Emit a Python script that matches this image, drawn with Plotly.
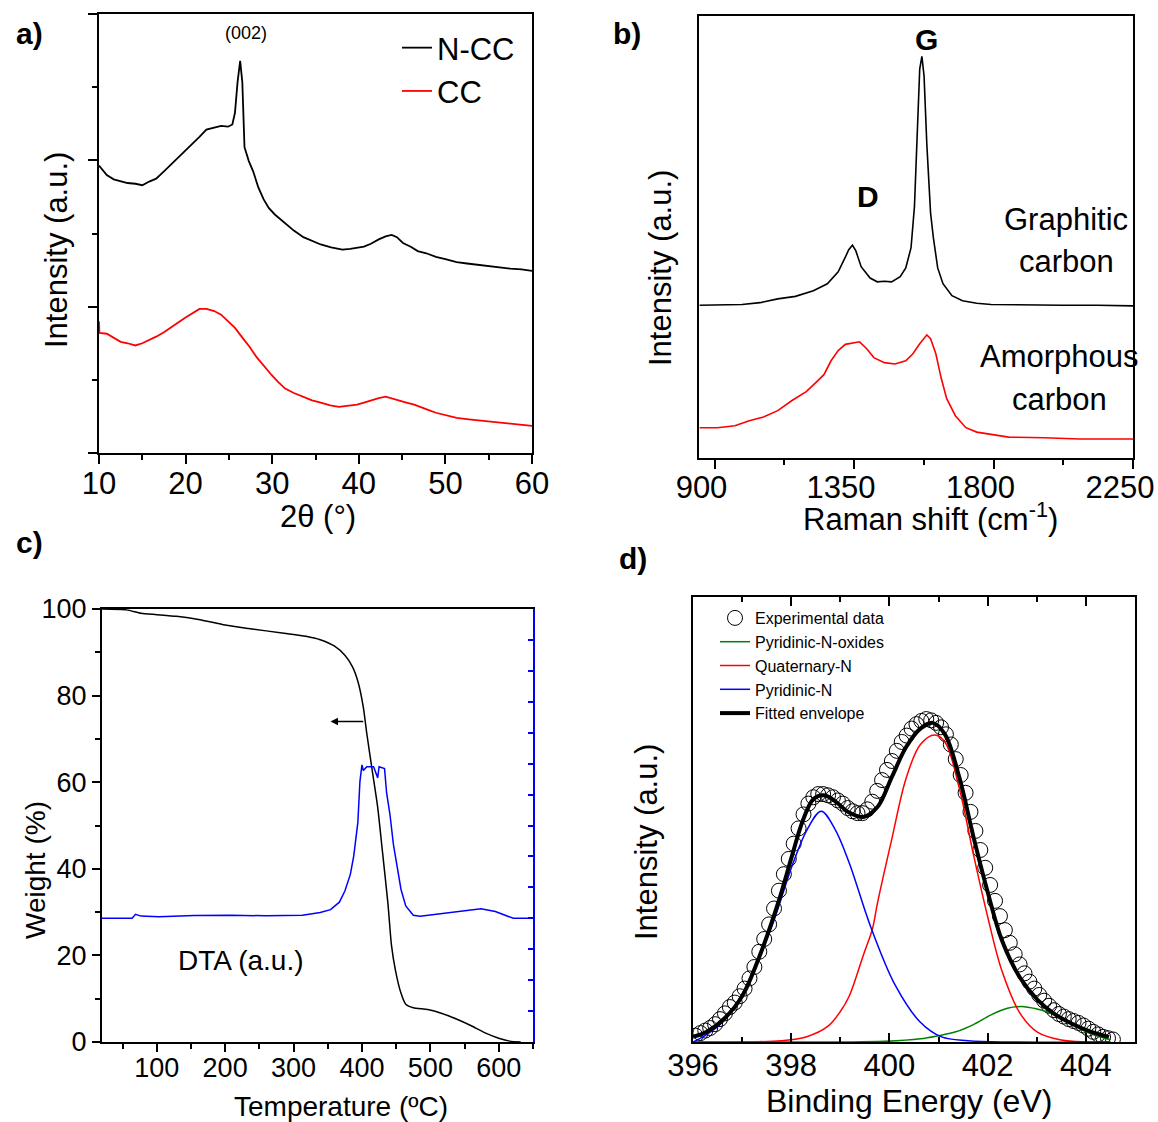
import plotly.graph_objects as go

W, H = 1158, 1122
FONT = "Arial, Liberation Sans, sans-serif"

# ---------------- a) XRD patterns ----------------
xrd_2theta_ncc = [10.0, 10.5, 10.9, 11.7, 12.5, 13.3, 14.2, 15.0, 15.8, 16.6, 17.5, 18.3, 19.1,
                  19.95, 20.8, 21.6, 22.4, 23.3, 24.1, 24.9, 25.4, 25.7, 26.0, 26.3, 26.55, 26.8,
                  27.3, 27.8, 28.4, 29.0, 29.6, 30.3, 31.5, 32.5, 33.6, 34.6, 35.6, 36.8, 38.1,
                  39.0, 39.8, 40.6, 41.4, 42.3, 43.1, 43.8, 44.4, 45.1, 46.0, 46.8, 47.8, 48.9,
                  50.0, 51.3, 52.5, 53.8, 55.0, 56.3, 57.5, 58.8, 60.0]
xrd_int_ncc = [3.93, 3.86, 3.80, 3.74, 3.71, 3.69, 3.68, 3.66, 3.71, 3.75, 3.85, 3.94, 4.04,
               4.13, 4.22, 4.32, 4.42, 4.45, 4.47, 4.46, 4.49, 4.65, 5.07, 5.36, 5.07, 4.18,
               3.99, 3.85, 3.63, 3.47, 3.35, 3.26, 3.14, 3.04, 2.95, 2.90, 2.85, 2.81, 2.78,
               2.79, 2.80, 2.82, 2.86, 2.92, 2.96, 2.98, 2.95, 2.87, 2.82, 2.76, 2.73, 2.68,
               2.65, 2.61, 2.59, 2.57, 2.55, 2.54, 2.52, 2.51, 2.49]

xrd_2theta_cc = [10.0, 10.05, 10.9, 11.7, 12.5, 13.3, 14.2, 15.0, 15.8, 16.6, 17.5, 18.3, 19.1,
                 19.95, 20.8, 21.6, 22.4, 23.3, 24.1, 24.9, 25.7, 26.6, 27.4, 28.2, 29.0, 29.9,
                 30.7, 31.5, 32.5, 33.6, 34.6, 35.6, 36.7, 37.7, 38.7, 39.8, 40.6, 41.4, 42.3,
                 43.1, 43.9, 44.7, 45.5, 46.4, 47.2, 48.0, 48.9, 50.1, 51.3, 52.7, 54.2, 55.6,
                 57.1, 58.5, 60.0]
xrd_int_cc = [1.80, 1.64, 1.63, 1.57, 1.52, 1.50, 1.47, 1.50, 1.54, 1.59, 1.65, 1.71, 1.78,
              1.85, 1.91, 1.97, 1.97, 1.94, 1.89, 1.80, 1.71, 1.57, 1.45, 1.31, 1.19, 1.07,
              0.97, 0.88, 0.82, 0.77, 0.72, 0.69, 0.65, 0.63, 0.64, 0.66, 0.69, 0.72, 0.75,
              0.77, 0.74, 0.72, 0.69, 0.66, 0.63, 0.59, 0.55, 0.52, 0.48, 0.46, 0.44, 0.42,
              0.40, 0.39, 0.37]

# ---------------- b) Raman spectra ----------------
raman_shift_gr = [852, 932, 989, 1047, 1104, 1161, 1219, 1264, 1299, 1322, 1333, 1345, 1356,
                  1373, 1402, 1425, 1448, 1471, 1499, 1517, 1534, 1545, 1554, 1562, 1569, 1576,
                  1585, 1597, 1606, 1620, 1637, 1666, 1700, 1746, 1792, 1906, 2021, 2135, 2250]
raman_int_gr = [2.42, 2.42, 2.43, 2.46, 2.52, 2.56, 2.65, 2.76, 2.95, 3.18, 3.30, 3.37, 3.28,
                3.03, 2.85, 2.79, 2.80, 2.79, 2.87, 3.01, 3.33, 3.98, 5.07, 6.16, 6.36, 6.05,
                4.96, 3.88, 3.49, 3.01, 2.76, 2.57, 2.49, 2.45, 2.43, 2.42, 2.42, 2.42, 2.41]

raman_shift_am = [852, 909, 966, 1012, 1058, 1104, 1150, 1196, 1230, 1253, 1276, 1299, 1322,
                  1345, 1368, 1391, 1414, 1448, 1482, 1517, 1540, 1562, 1585, 1597, 1614, 1631,
                  1649, 1677, 1711, 1746, 1792, 1849, 1964, 2078, 2250]
raman_int_am = [0.48, 0.48, 0.51, 0.59, 0.65, 0.75, 0.91, 1.05, 1.21, 1.32, 1.54, 1.70, 1.80,
                1.82, 1.84, 1.73, 1.59, 1.51, 1.49, 1.54, 1.65, 1.81, 1.95, 1.89, 1.65, 1.27,
                0.94, 0.67, 0.48, 0.41, 0.37, 0.33, 0.32, 0.30, 0.30]

# ---------------- c) TGA / DTA ----------------
tga_temp = [20, 56, 77, 100, 129, 161, 200, 234, 286, 318, 339, 360, 375, 386, 394, 402, 407,
            415, 423, 430, 438, 443, 449, 457, 464, 475, 496, 517, 538, 559, 580, 601, 616, 632]
tga_weight = [100.0, 99.8, 99.0, 98.7, 98.3, 97.6, 96.3, 95.5, 94.4, 93.7, 92.9, 91.4, 89.3,
              86.7, 83.3, 77.3, 71.3, 62.7, 54.2, 43.9, 31.9, 22.5, 16.5, 11.3, 8.7, 7.9, 7.5,
              6.6, 5.3, 3.8, 2.1, 0.8, 0.2, 0.0]

dta_temp = [20, 64, 69, 77, 103, 155, 208, 260, 313, 339, 354, 367, 375, 383, 388, 394, 397,
            400, 402, 407, 417, 420, 423, 425, 433, 436, 441, 446, 451, 457, 464, 475, 485,
            506, 538, 559, 574, 595, 611, 621, 645]
dta_signal = [4.00, 4.00, 4.13, 4.07, 4.05, 4.09, 4.10, 4.08, 4.10, 4.19, 4.28, 4.52, 4.88,
              5.42, 6.02, 7.10, 8.42, 8.96, 8.78, 8.90, 8.90, 8.75, 8.54, 8.90, 8.84, 8.06,
              7.34, 6.38, 5.66, 4.94, 4.40, 4.10, 4.07, 4.13, 4.22, 4.28, 4.31, 4.22, 4.10,
              4.00, 4.00]

# ---------------- d) N 1s XPS ----------------
xps_be = [396.05, 396.15, 396.25, 396.35, 396.45, 396.55, 396.65, 396.75, 396.85, 396.95,
          397.05, 397.15, 397.25, 397.35, 397.45, 397.55, 397.65, 397.75, 397.85, 397.95,
          398.05, 398.15, 398.25, 398.35, 398.45, 398.55, 398.65, 398.75, 398.85, 398.95,
          399.05, 399.15, 399.25, 399.35, 399.45, 399.55, 399.65, 399.75, 399.85, 399.95,
          400.05, 400.15, 400.25, 400.35, 400.45, 400.55, 400.65, 400.75, 400.85, 400.95,
          401.05, 401.15, 401.25, 401.35, 401.45, 401.55, 401.65, 401.75, 401.85, 401.95,
          402.05, 402.15, 402.25, 402.35, 402.45, 402.55, 402.65, 402.75, 402.85, 402.95,
          403.05, 403.15, 403.25, 403.35, 403.45, 403.55, 403.65, 403.75, 403.85, 403.95,
          404.05, 404.15, 404.25, 404.35, 404.45, 404.55]
xps_counts = [0.10, 0.14, 0.18, 0.22, 0.28, 0.36, 0.45, 0.55, 0.62, 0.72,
              0.84, 1.00, 1.18, 1.42, 1.62, 1.85, 2.10, 2.38, 2.64, 2.88,
              3.12, 3.36, 3.58, 3.75, 3.85, 3.90, 3.90, 3.88, 3.85, 3.80,
              3.75, 3.68, 3.63, 3.60, 3.60, 3.66, 3.78, 3.95, 4.12, 4.28,
              4.42, 4.58, 4.72, 4.82, 4.93, 5.00, 5.05, 5.08, 5.06, 5.02,
              4.95, 4.84, 4.68, 4.45, 4.20, 3.92, 3.62, 3.32, 3.02, 2.74,
              2.47, 2.22, 1.98, 1.76, 1.56, 1.38, 1.22, 1.08, 0.95, 0.84,
              0.74, 0.65, 0.57, 0.50, 0.44, 0.40, 0.36, 0.33, 0.30, 0.26,
              0.21, 0.16, 0.12, 0.08, 0.06, 0.04]

oxide_be = [396.0, 399.0, 399.9, 400.63, 401.0, 401.35, 401.7, 402.08, 402.4, 402.69, 403.0,
            403.38, 403.7, 403.9, 404.2, 404.47, 404.5]
oxide_int = [0.0, 0.0, 0.01, 0.05, 0.10, 0.16, 0.27, 0.43, 0.53, 0.56, 0.52, 0.43, 0.30, 0.20,
             0.10, 0.04, 0.03]

quat_be = [396.0, 397.0, 397.8, 398.3, 398.75, 399.0, 399.18, 399.47, 399.65, 399.76, 400.05,
           400.34, 400.63, 400.92, 401.13, 401.42, 401.71, 402.0, 402.29, 402.66, 403.02,
           403.5, 404.0, 404.5]
quat_int = [0.0, 0.0, 0.02, 0.08, 0.25, 0.48, 0.72, 1.37, 1.77, 2.20, 3.20, 4.15, 4.68, 4.83,
            4.72, 4.00, 2.95, 1.97, 1.12, 0.45, 0.15, 0.03, 0.0, 0.0]

pyr_be = [396.0, 396.2, 396.6, 397.1, 397.61, 398.04, 398.33, 398.61, 398.89, 399.18, 399.61,
          400.12, 400.63, 401.06, 401.6, 402.5, 404.5]
pyr_int = [0.0, 0.08, 0.31, 0.89, 1.83, 2.82, 3.35, 3.63, 3.35, 2.82, 1.83, 0.89, 0.31, 0.08,
           0.02, 0.0, 0.0]

env_be = [396.0, 396.28, 396.64, 397.0, 397.36, 397.73, 398.02, 398.23, 398.45, 398.67, 398.89,
          399.18, 399.47, 399.76, 400.05, 400.34, 400.63, 400.88, 401.13, 401.42, 401.71, 402.0,
          402.29, 402.66, 403.02, 403.38, 403.74, 404.11, 404.47]
env_int = [0.08, 0.16, 0.37, 0.72, 1.36, 2.18, 2.94, 3.47, 3.82, 3.88, 3.79, 3.61, 3.54, 3.70,
           4.17, 4.64, 4.93, 5.02, 4.84, 4.17, 3.23, 2.36, 1.60, 1.01, 0.66, 0.43, 0.28, 0.16,
           0.08]


def dom_x(left, right):
    return [left / W, right / W]


def dom_y(top, bottom):
    return [1 - bottom / H, 1 - top / H]


def axis(**kw):
    base = dict(showgrid=False, zeroline=False, showline=True, linecolor="black", linewidth=2,
                tickcolor="black", tickwidth=1.5, ticklen=9, automargin=False,
                tickfont=dict(family=FONT, size=31, color="black"))
    base.update(kw)
    return base


def overlay(over, side, anchor, rng, dtick, color="black", minor=None, **kw):
    d = dict(overlaying=over, side=side, anchor=anchor, range=rng, showgrid=False,
             zeroline=False, showline=False, showticklabels=False, ticks="inside",
             tick0=rng[0], dtick=dtick, ticklen=8, tickwidth=1.5, tickcolor=color,
             automargin=False)
    if minor:
        d["minor"] = minor
    d.update(kw)
    return d


fig = go.Figure()

# a)
fig.add_trace(go.Scatter(x=xrd_2theta_ncc, y=xrd_int_ncc, mode="lines", name="N-CC",
                         line=dict(color="black", width=1.8), xaxis="x", yaxis="y",
                         legend="legend"))
fig.add_trace(go.Scatter(x=xrd_2theta_cc, y=xrd_int_cc, mode="lines", name="CC",
                         line=dict(color="red", width=1.8), xaxis="x", yaxis="y",
                         legend="legend"))

# b)
fig.add_trace(go.Scatter(x=raman_shift_gr, y=raman_int_gr, mode="lines", showlegend=False,
                         line=dict(color="black", width=1.6), xaxis="x2", yaxis="y2"))
fig.add_trace(go.Scatter(x=raman_shift_am, y=raman_int_am, mode="lines", showlegend=False,
                         line=dict(color="red", width=1.6), xaxis="x2", yaxis="y2"))

# c)
fig.add_trace(go.Scatter(x=tga_temp, y=tga_weight, mode="lines", showlegend=False,
                         line=dict(color="black", width=1.5, shape="spline", smoothing=0.6),
                         xaxis="x3", yaxis="y3"))
fig.add_trace(go.Scatter(x=dta_temp, y=dta_signal, mode="lines", showlegend=False,
                         line=dict(color="blue", width=1.5), xaxis="x3", yaxis="y7"))

# d)
fig.add_trace(go.Scatter(x=xps_be, y=xps_counts, mode="markers", name="Experimental data",
                         marker=dict(symbol="circle-open", size=15, color="black",
                                     line=dict(width=1, color="black")),
                         xaxis="x4", yaxis="y4", legend="legend2"))
fig.add_trace(go.Scatter(x=oxide_be, y=oxide_int, mode="lines", name="Pyridinic-N-oxides",
                         line=dict(color="green", width=1.5, shape="spline"), xaxis="x4",
                         yaxis="y4", legend="legend2"))
fig.add_trace(go.Scatter(x=quat_be, y=quat_int, mode="lines", name="Quaternary-N",
                         line=dict(color="red", width=1.5, shape="spline"), xaxis="x4",
                         yaxis="y4", legend="legend2"))
fig.add_trace(go.Scatter(x=pyr_be, y=pyr_int, mode="lines", name="Pyridinic-N",
                         line=dict(color="blue", width=1.5, shape="spline"), xaxis="x4",
                         yaxis="y4", legend="legend2"))
fig.add_trace(go.Scatter(x=env_be, y=env_int, mode="lines", name="Fitted envelope",
                         line=dict(color="black", width=4, shape="spline"), xaxis="x4",
                         yaxis="y4", legend="legend2"))

tick_minor_out = dict(ticks="outside", ticklen=5, tickwidth=1.5, tickcolor="black")

layout = dict(
    width=W, height=H, margin=dict(l=0, r=0, t=0, b=0, autoexpand=False),
    paper_bgcolor="white", plot_bgcolor="white",
    font=dict(family=FONT, color="black"),
    # a)
    xaxis=axis(domain=dom_x(99, 532), anchor="y", range=[10, 60], tick0=10, dtick=10,
               ticks="outside", mirror=True, ticklabelstandoff=-7,
               minor=dict(dtick=5, **tick_minor_out)),
    yaxis=axis(domain=dom_y(14, 453), anchor="x", range=[0, 6], tick0=0, dtick=2,
               ticks="outside", showticklabels=False, mirror=True,
               minor=dict(dtick=1, **tick_minor_out)),
    xaxis5=overlay("x", "top", "y", [10, 60], 10,
                   minor=dict(ticks="inside", dtick=5, ticklen=5, tickcolor="black")),
    yaxis5=overlay("y", "right", "x", [0, 6], 1),
    # b)
    xaxis2=axis(domain=dom_x(699, 1133), anchor="y2", range=[850, 2250], tick0=900, dtick=450,
                ticks="outside", mirror=True, ticklabelstandoff=-8, ticklabelshift=-13,
                ticklabeloverflow="allow",
                minor=dict(tick0=900, dtick=225, **tick_minor_out)),
    yaxis2=axis(domain=dom_y(16, 458), anchor="x2", range=[0, 7], ticks="",
                showticklabels=False, mirror=True),
    yaxis6=overlay("y2", "right", "x2", [0, 7], 1),
    # c)
    xaxis3=axis(domain=dom_x(102, 533), anchor="y3", range=[20, 650], tick0=0, dtick=100,
                ticks="outside", ticklen=8, mirror=True, ticklabelstandoff=-7,
                tickfont=dict(family=FONT, size=27, color="black"),
                minor=dict(tick0=0, dtick=50, **tick_minor_out)),
    yaxis3=axis(domain=dom_y(609, 1042), anchor="x3", range=[0, 100], tick0=0, dtick=20,
                ticks="outside", ticklen=8,
                tickfont=dict(family=FONT, size=27, color="black"),
                minor=dict(dtick=10, **tick_minor_out)),
    xaxis7=overlay("x3", "top", "y3", [20, 650], 100, tick0=0,
                   minor=dict(ticks="inside", tick0=0, dtick=50, ticklen=5, tickcolor="black")),
    yaxis7=overlay("y3", "right", "x3", [0, 14], 1, color="blue", showline=True,
                   linecolor="blue", linewidth=2, ticklen=5),
    # d)
    xaxis4=axis(domain=dom_x(693, 1135), anchor="y4", range=[396, 405], tick0=396, dtick=2,
                ticks="inside", mirror="ticks", ticklabelstandoff=-5,
                minor=dict(ticks="inside", dtick=1, ticklen=5, tickcolor="black")),
    yaxis4=axis(domain=dom_y(597, 1042), anchor="x4", range=[0, 7], ticks="",
                showticklabels=False, mirror=True),
    yaxis8=overlay("y4", "right", "x4", [0, 7], 1),
    legend=dict(x=397 / W, y=1 - 21 / H, xanchor="left", yanchor="top",
                bgcolor="rgba(0,0,0,0)", font=dict(family=FONT, size=31, color="black"),
                tracegroupgap=0),
    legend2=dict(x=715 / W, y=1 - 601 / H, xanchor="left", yanchor="top",
                 bgcolor="rgba(0,0,0,0)", font=dict(family=FONT, size=16, color="black"),
                 tracegroupgap=0),
)


def note(text, px, py, size, angle=0, color="black", bold=False):
    return dict(text=f"<b>{text}</b>" if bold else text, x=px / W, y=1 - py / H,
                xref="paper", yref="paper", showarrow=False, textangle=angle,
                font=dict(family=FONT, size=size, color=color),
                xanchor="center", yanchor="middle")


annotations = [
    # panel letters
    note("a)", 29, 34, 30, bold=True),
    note("b)", 627, 33, 30, bold=True),
    note("c)", 29, 543, 30, bold=True),
    note("d)", 633, 558, 30, bold=True),
    # a)
    note("(002)", 246, 33, 18),
    note("2θ (°)", 318, 517, 31),
    note("Intensity (a.u.)", 57, 250, 31, angle=-90),
    # b)
    note("G", 926, 40, 30, bold=True),
    note("D", 868, 197, 30, bold=True),
    note("Graphitic", 1066, 219, 31),
    note("carbon", 1066, 261, 31),
    note("Amorphous", 1059, 357, 31),
    note("carbon", 1059, 400, 31),
    note("Raman shift (cm<sup>-1</sup>)", 930, 517, 31),
    note("Intensity (a.u.)", 660, 268, 31, angle=-90),
    # c)
    note("DTA (a.u.)", 241, 961, 28),
    note("Temperature (ºC)", 341, 1106, 28),
    note("Weight (%)", 35, 870, 28, angle=-90),
    dict(x=354, y=74, ax=404, ay=74, xref="x3", yref="y3", axref="x3", ayref="y3",
         text="", showarrow=True, arrowhead=2, arrowsize=1, arrowwidth=1.5,
         arrowcolor="black"),
    # d)
    note("Binding Energy (eV)", 909, 1101, 32),
    note("Intensity (a.u.)", 646, 842, 31, angle=-90),
]
layout["annotations"] = annotations

fig.update_layout(**layout)
fig.write_html("out.html")
